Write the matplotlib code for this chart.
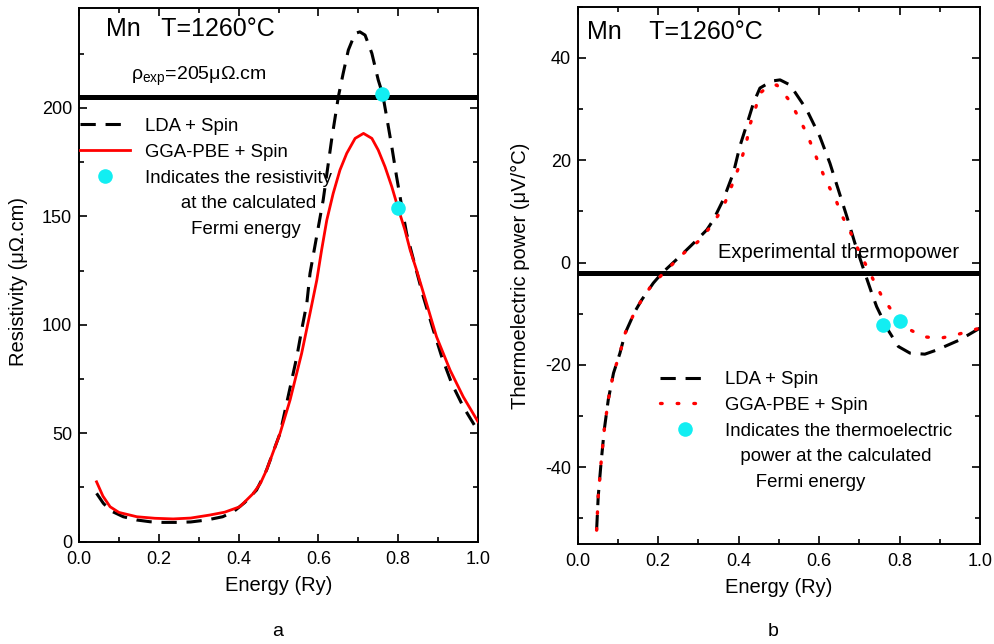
import matplotlib
matplotlib.use("Agg")
import matplotlib.pyplot as plt
from matplotlib.lines import Line2D
from matplotlib.ticker import MultipleLocator, FormatStrFormatter

plt.rcParams['font.family'] = ['Liberation Sans', 'DejaVu Sans']
plt.rcParams['mathtext.fontset'] = 'custom'
plt.rcParams['mathtext.rm'] = 'Liberation Sans'
plt.rcParams['axes.unicode_minus'] = False

# ---- (a) resistivity vs energy ----
energy_rho_lda = [0.044, 0.061, 0.08, 0.111, 0.145, 0.178, 0.21, 0.245, 0.28, 0.32,
                  0.36, 0.387, 0.415, 0.445, 0.47, 0.504, 0.546, 0.558, 0.571, 0.579,
                  0.591, 0.612, 0.633, 0.650, 0.662, 0.675, 0.692, 0.704, 0.717, 0.734,
                  0.750, 0.761, 0.771, 0.784, 0.796, 0.809, 0.821, 0.834, 0.863, 0.888,
                  0.909, 0.934, 0.963, 1.0]
rho_lda = [22.3, 17.7, 14.2, 11.5, 10.0, 9.2, 8.9, 8.9, 9.1, 10.0,
           11.5, 13.8, 18.0, 23.8, 33.0, 50.0, 85.3, 97.6, 109.9, 123.7,
           136.0, 157.5, 185.1, 205.1, 215.8, 226.6, 234.3, 235.0, 233.5, 225.1,
           212.8, 206.3, 195.9, 182.0, 168.2, 154.4, 142.1, 133.0, 112.9, 97.6,
           85.3, 73.0, 62.2, 51.0]

energy_rho_gga = [0.044, 0.06, 0.078, 0.1, 0.145, 0.19, 0.236, 0.28, 0.328, 0.365,
                  0.403, 0.437, 0.455, 0.47, 0.504, 0.529, 0.558, 0.579, 0.596, 0.608,
                  0.621, 0.637, 0.654, 0.671, 0.692, 0.713, 0.734, 0.750, 0.767, 0.784,
                  0.80, 0.817, 0.830, 0.846, 0.871, 0.896, 0.930, 0.963, 1.0]
rho_gga = [27.6, 21.0, 16.1, 13.5, 11.5, 10.8, 10.5, 10.9, 12.3, 13.6,
           16.1, 22.3, 27.0, 33.0, 50.0, 65.3, 86.8, 105.3, 120.6, 134.4,
           148.2, 160.5, 171.3, 179.0, 185.9, 188.2, 185.9, 180.5, 172.8, 163.6,
           153.6, 143.6, 134.4, 125.2, 109.9, 94.5, 79.1, 66.8, 55.3]

fermi_energy_rho = [0.76, 0.80]
fermi_rho = [206.3, 153.6]
rho_exp = 205

# ---- (b) thermoelectric power vs energy ----
energy_s_lda = [0.047, 0.051, 0.058, 0.066, 0.076, 0.089, 0.105, 0.118, 0.142, 0.159,
                0.188, 0.209, 0.254, 0.296, 0.321, 0.337, 0.362, 0.387, 0.403, 0.424,
                0.437, 0.453, 0.466, 0.485, 0.503, 0.528, 0.569, 0.602, 0.627, 0.648,
                0.669, 0.689, 0.714, 0.731, 0.743, 0.77, 0.797, 0.826, 0.863, 0.892,
                0.95, 1.0]
s_lda = [-52.3, -45.7, -39.2, -32.7, -26.8, -21.6, -17.7, -13.8, -9.6, -7.3,
         -4.0, -2.1, 1.2, 4.4, 6.4, 8.3, 12.3, 17.5, 22.7, 27.9,
         31.2, 34.1, 34.7, 35.5, 35.7, 34.7, 29.9, 24.6, 19.4, 14.2,
         9.0, 3.8, -2.1, -6.0, -8.6, -13.0, -16.4, -17.7, -17.9, -17.1,
         -15.1, -12.8]

energy_s_gga = [0.047, 0.051, 0.058, 0.066, 0.076, 0.089, 0.105, 0.118, 0.142, 0.159,
                0.184, 0.223, 0.263, 0.304, 0.337, 0.362, 0.379, 0.395, 0.408, 0.42,
                0.428, 0.441, 0.453, 0.475, 0.495, 0.528, 0.548, 0.569, 0.586, 0.602,
                0.62, 0.64, 0.656, 0.677, 0.694, 0.714, 0.735, 0.756, 0.785, 0.818,
                0.859, 0.901, 0.942, 1.0]
s_gga = [-52.3, -45.7, -39.2, -32.7, -26.8, -21.6, -17.7, -13.8, -9.6, -7.3,
         -4.4, -1.3, 1.8, 4.4, 7.7, 10.9, 14.2, 17.5, 20.4, 23.7,
         26.9, 29.9, 33.1, 34.5, 34.7, 31.5, 28.5, 25.3, 22.0, 18.8,
         15.5, 12.6, 9.3, 6.1, 3.1, -0.1, -3.4, -6.6, -9.9, -12.8,
         -14.5, -14.8, -14.1, -12.8]

fermi_energy_s = [0.76, 0.80]
fermi_s = [-12.2, -11.5]
s_exp = -2

CYAN = '#12EEF2'
RED = '#FF0000'
DASH = (0, (5, 3.2))
DOT = (0, (0.5, 4.5))
TICK_FS = 13
LABEL_FS = 14.5
LEG_FS = 13.4

fig = plt.figure(figsize=(9.94, 6.44), dpi=100)
ax1 = fig.add_axes([79 / 994, 1 - 541.7 / 644, 399 / 994, 533.7 / 644])
ax2 = fig.add_axes([577.7 / 994, 1 - 544 / 644, 402.3 / 994, 537.3 / 644])


def style_axes(ax):
    for sp in ax.spines.values():
        sp.set_linewidth(1.4)
    ax.tick_params(which='both', direction='in', top=True, right=True,
                   labelsize=TICK_FS, width=1.2)
    ax.tick_params(axis='y', which='both', pad=5)
    ax.tick_params(axis='x', which='both', pad=6.8)
    ax.tick_params(which='major', length=6)
    ax.tick_params(which='minor', length=3.5)
    ax.set_xlim(0.0, 1.0)
    ax.xaxis.set_major_locator(MultipleLocator(0.2))
    ax.xaxis.set_minor_locator(MultipleLocator(0.1))
    ax.xaxis.set_major_formatter(FormatStrFormatter('%.1f'))


# ---------- panel a ----------
style_axes(ax1)
ax1.set_ylim(0, 246)
ax1.yaxis.set_major_locator(MultipleLocator(50))
ax1.yaxis.set_minor_locator(MultipleLocator(25))

ax1.axhline(rho_exp, color='black', lw=3.6, zorder=2)
ax1.plot(energy_rho_lda, rho_lda, color='black', lw=2.2, linestyle=DASH, zorder=3)
ax1.plot(energy_rho_gga, rho_gga, color=RED, lw=2.0, zorder=3)
ax1.plot(fermi_energy_rho, fermi_rho, 'o', color=CYAN, ms=10.5, mec='none', zorder=4)

ax1.text(0.068, 0.9475, 'Mn   T=1260°C', transform=ax1.transAxes,
         fontsize=18, va='baseline', ha='left')
ax1.text(0.130, 0.865, 'ρ$_{\\mathrm{exp}}$=205μΩ.cm', transform=ax1.transAxes,
         fontsize=14, va='baseline', ha='left')

ax1.set_xlabel('Energy (Ry)', fontsize=LABEL_FS)
ax1.set_ylabel('Resistivity (μΩ.cm)', fontsize=LABEL_FS)
ax1.xaxis.set_label_coords(0.5, -0.064)
ax1.yaxis.set_label_coords(-0.128, 0.487)

blank = Line2D([], [], linestyle='none')
h1 = [Line2D([], [], color='black', lw=2.2, linestyle=DASH),
      Line2D([], [], color=RED, lw=2.0),
      Line2D([], [], marker='o', color=CYAN, ms=10.5, mec='none', linestyle='none'),
      blank, blank]
l1 = ['LDA + Spin', 'GGA-PBE + Spin', 'Indicates the resistivity',
      '       at the calculated', '         Fermi energy']
ax1.legend(h1, l1, loc='upper left', bbox_to_anchor=(0.003, 0.794), frameon=False,
           fontsize=LEG_FS, handlelength=2.7, handletextpad=0.8, labelspacing=0.47,
           borderpad=0, borderaxespad=0)

# ---------- panel b ----------
style_axes(ax2)
ax2.set_ylim(-55, 50)
ax2.yaxis.set_major_locator(MultipleLocator(20))
ax2.yaxis.set_minor_locator(MultipleLocator(10))

ax2.axhline(s_exp, color='black', lw=3.6, zorder=2)
ax2.plot(energy_s_lda, s_lda, color='black', lw=2.2, linestyle=DASH, zorder=3)
ax2.plot(energy_s_gga, s_gga, color=RED, lw=2.4, linestyle=DOT,
         dash_capstyle='round', zorder=4)
ax2.plot(fermi_energy_s, fermi_s, 'o', color=CYAN, ms=10.5, mec='none', zorder=5)

ax2.text(0.023, 0.939, 'Mn    T=1260°C', transform=ax2.transAxes,
         fontsize=18, va='baseline', ha='left')
ax2.text(0.349, 0.532, 'Experimental thermopower', transform=ax2.transAxes,
         fontsize=14.5, va='baseline', ha='left')

ax2.set_xlabel('Energy (Ry)', fontsize=LABEL_FS)
ax2.set_ylabel('Thermoelectric power (μV/°C)', fontsize=LABEL_FS)
ax2.xaxis.set_label_coords(0.5, -0.064)
ax2.yaxis.set_label_coords(-0.119, 0.5)

h2 = [Line2D([], [], color='black', lw=2.2, linestyle=DASH),
      Line2D([], [], color=RED, lw=2.4, linestyle=DOT, dash_capstyle='round'),
      Line2D([], [], marker='o', color=CYAN, ms=10.5, mec='none', linestyle='none'),
      blank, blank]
l2 = ['LDA + Spin', 'GGA-PBE + Spin', 'Indicates the thermoelectric',
      '   power at the calculated', '      Fermi energy']
ax2.legend(h2, l2, loc='upper left', bbox_to_anchor=(0.205, 0.322), frameon=False,
           fontsize=LEG_FS, handlelength=2.7, handletextpad=0.8, labelspacing=0.47,
           borderpad=0, borderaxespad=0)

fig.text(278 / 994, 1 - 632 / 644, 'a', fontsize=14, ha='center', va='center')
fig.text(773 / 994, 1 - 632 / 644, 'b', fontsize=14, ha='center', va='center')

fig.savefig('out.png', dpi=100, facecolor='white')
